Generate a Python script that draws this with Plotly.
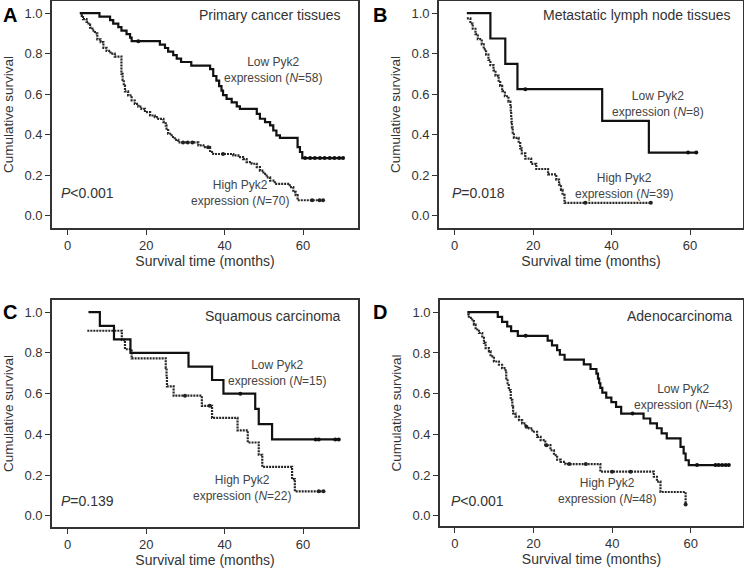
import numpy as np
import plotly.graph_objects as go

# ---------------- data ----------------
x_ticks = [0, 20, 40, 60]
y_ticks = [0.0, 0.2, 0.4, 0.6, 0.8, 1.0]
y_tick_labels = ["0.0", "0.2", "0.4", "0.6", "0.8", "1.0"]

panel_letters = ["A", "B", "C", "D"]
panel_titles = ["Primary cancer tissues", "Metastatic lymph node tissues",
                "Squamous carcinoma", "Adenocarcinoma"]
p_values = ["<i>P</i>&lt;0.001", "<i>P</i>=0.018", "<i>P</i>=0.139", "<i>P</i>&lt;0.001"]
low_n = [58, 8, 15, 43]
high_n = [70, 39, 22, 48]

# Panel A
A_low_t = [3.1, 8.1, 10.8, 11.6, 12.9, 13.7, 15.0, 15.9, 16.3, 23.5, 24.8, 25.6, 26.9, 27.8,
           28.9, 31.5, 36.3, 37.1, 37.9, 38.6, 39.2, 39.6, 40.5, 41.8, 43.1, 43.9, 48.2, 49.0,
           50.3, 51.6, 52.4, 53.2, 54.1, 58.6, 59.2, 59.8, 70.2]
A_low_s = [1.0, 0.983, 0.966, 0.948, 0.931, 0.914, 0.897, 0.879, 0.862, 0.845, 0.828, 0.810, 0.793, 0.776,
           0.759, 0.741, 0.724, 0.690, 0.667, 0.640, 0.618, 0.596, 0.577, 0.560, 0.540, 0.528, 0.503, 0.479,
           0.462, 0.446, 0.421, 0.397, 0.385, 0.339, 0.315, 0.285, 0.285]
A_low_cens = [18.0, 60.5, 61.8, 63.0, 64.3, 65.5, 66.8, 68.0, 69.2, 70.2]
A_high_t = [3.1, 3.6, 3.9, 4.8, 5.3, 5.7, 6.3, 6.95, 7.55, 8.4, 9.1, 9.9, 10.9, 12.0, 13.7, 14.0,
            14.3, 14.6, 15.4, 16.3, 17.1, 18.0, 18.8, 19.7, 21.0, 22.2, 23.1, 24.4, 25.0, 25.2, 25.6,
            26.5, 27.3, 28.2, 33.3, 34.6, 36.3, 37.1, 42.2, 43.5, 44.7, 45.6, 46.9, 48.2, 49.0, 49.9,
            50.7, 51.6, 52.8, 56.6, 57.5, 58.1, 58.6, 65.1]
A_high_s = [1.0, 0.986, 0.971, 0.957, 0.943, 0.929, 0.914, 0.900, 0.871, 0.857, 0.829, 0.814, 0.800, 0.786, 0.700, 0.671,
            0.643, 0.614, 0.594, 0.569, 0.552, 0.539, 0.528, 0.512, 0.495, 0.487, 0.478, 0.462, 0.445, 0.430, 0.405,
            0.389, 0.375, 0.362, 0.348, 0.339, 0.315, 0.305, 0.298, 0.290, 0.280, 0.265, 0.257, 0.240, 0.223, 0.207,
            0.190, 0.174, 0.158, 0.142, 0.118, 0.102, 0.077, 0.077]
A_high_cens = [29.4, 30.6, 31.8, 35.8, 39.6, 62.3, 64.2, 65.1]

# Panel B
B_low_t = [3.1, 9.1, 12.9, 16.0, 37.6, 49.5, 61.6]
B_low_s = [1.0, 0.875, 0.75, 0.625, 0.469, 0.312, 0.312]
B_low_cens = [18.0, 59.5, 61.6]
B_high_t = [3.1, 4.0, 4.6, 5.3, 5.9, 6.9, 7.4, 8.0, 8.6, 9.1, 9.9, 10.4, 11.2, 11.6, 12.1, 12.8, 13.7,
            14.2, 14.3, 14.4, 14.5, 14.6, 14.8, 15.1, 16.3, 16.7, 17.1, 18.0, 19.5, 20.8, 23.8, 25.9,
            26.6, 27.1, 27.5, 28.0, 50.0]
B_high_s = [0.974, 0.949, 0.923, 0.897, 0.872, 0.846, 0.821, 0.795, 0.769, 0.744, 0.718, 0.692, 0.667, 0.641, 0.615, 0.590, 0.564,
            0.538, 0.513, 0.487, 0.462, 0.436, 0.410, 0.385, 0.359, 0.333, 0.308, 0.282, 0.256, 0.231, 0.205, 0.179,
            0.154, 0.128, 0.103, 0.064, 0.064]
B_high_cens = [33.3, 50.0]

# Panel C
C_low_t = [5.3, 8.2, 11.8, 16.0, 30.8, 36.8, 39.7, 47.8, 48.7, 52.1, 69.1]
C_low_s = [1.0, 0.933, 0.867, 0.80, 0.733, 0.667, 0.60, 0.525, 0.45, 0.375, 0.375]
C_low_cens = [44.0, 63.2, 64.0, 68.2, 69.1]
C_high_t = [5.0, 13.8, 14.6, 16.3, 25.0, 25.2, 25.3, 27.0, 34.2, 36.8, 43.3, 45.9, 48.7, 49.6, 57.2, 57.9, 65.2]
C_high_s = [0.909, 0.864, 0.818, 0.773, 0.727, 0.682, 0.636, 0.590, 0.540, 0.481, 0.420, 0.360, 0.300, 0.240, 0.180, 0.120, 0.120]
C_high_cens = [29.9, 36.2, 64.0, 65.2]

# Panel D
D_low_t = [3.15, 10.9, 12.0, 13.3, 14.3, 16.0, 23.6, 24.7, 26.0, 26.7, 27.9, 32.8, 34.5, 36.0, 36.4, 36.7,
           37.0, 37.5, 38.5, 39.8, 41.0, 42.3, 48.0, 49.7, 51.4, 52.6, 53.9, 57.4, 58.2, 58.7, 59.5, 69.7]
D_low_s = [1.0, 0.977, 0.953, 0.930, 0.907, 0.884, 0.860, 0.837, 0.814, 0.791, 0.767, 0.744, 0.721, 0.698, 0.674, 0.651,
           0.628, 0.605, 0.581, 0.558, 0.535, 0.502, 0.478, 0.454, 0.430, 0.405, 0.380, 0.339, 0.306, 0.273, 0.249, 0.249]
D_low_cens = [18.0, 45.2, 61.6, 66.3, 67.1, 68.0, 68.9, 69.7]
D_high_t = [3.15, 3.56, 4.41, 4.83, 5.26, 6.11, 6.95, 7.38, 7.8, 8.65, 9.07, 9.92, 11.2, 12.0, 12.9, 13.05,
            13.4, 13.7, 14.2, 14.6, 14.8, 15.4, 16.3, 17.1, 17.96, 18.8, 19.7, 20.9, 21.8, 23.0, 24.3, 25.2,
            26.0, 26.9, 28.1, 37.0, 50.6, 51.4, 52.3, 58.7]
D_high_s = [0.989, 0.972, 0.956, 0.939, 0.915, 0.898, 0.874, 0.849, 0.824, 0.808, 0.783, 0.758, 0.742, 0.725, 0.709, 0.675,
            0.651, 0.618, 0.569, 0.536, 0.503, 0.487, 0.470, 0.454, 0.437, 0.429, 0.413, 0.388, 0.372, 0.347, 0.322, 0.298,
            0.276, 0.265, 0.254, 0.217, 0.192, 0.168, 0.117, 0.055]
D_high_cens = [18.2, 23.3, 29.1, 33.3, 40.0, 44.7, 58.7]

# ---------------- layout geometry (pixels) ----------------
W, H = 744, 573
FONT = "Liberation Sans, Arial, Helvetica, sans-serif"
TXT = "#333333"


def pxx(x):
    return x / W


def pxy(y):
    return 1 - y / H


panels = [
    dict(lt=A_low_t, ls=A_low_s, lc=A_low_cens, ht=A_high_t, hs=A_high_s, hc=A_high_cens,
         xd=(52, 358), yd=(1, 228), xr=(-4, 74), yr=(-0.06, 1.06),
         letter=(1, 2), title=(343, 15), low_lab=(273, 70), high_lab=(240, 193), p=(59, 193)),
    dict(lt=B_low_t, ls=B_low_s, lc=B_low_cens, ht=B_high_t, hs=B_high_s, hc=B_high_cens,
         xd=(439, 743), yd=(1, 228), xr=(-4, 73.5), yr=(-0.06, 1.06),
         letter=(371, 2), title=(733, 15), low_lab=(658, 104), high_lab=(624, 186), p=(450, 193)),
    dict(lt=C_low_t, ls=C_low_s, lc=C_low_cens, ht=C_high_t, hs=C_high_s, hc=C_high_cens,
         xd=(52, 358), yd=(300, 527), xr=(-4, 74), yr=(-0.055, 1.06),
         letter=(1, 299), title=(343, 316), low_lab=(277, 373), high_lab=(242, 488), p=(59, 501)),
    dict(lt=D_low_t, ls=D_low_s, lc=D_low_cens, ht=D_high_t, hs=D_high_s, hc=D_high_cens,
         xd=(440, 743), yd=(300, 526), xr=(-3.8, 73.3), yr=(-0.05, 1.06),
         letter=(371, 299), title=(734, 316), low_lab=(683, 397), high_lab=(607, 491), p=(449, 501)),
]


def step_value(t, s, c):
    i = np.searchsorted(np.asarray(t), c, side="right") - 1
    i = np.clip(i, 0, len(s) - 1)
    return list(np.asarray(s)[i])


fig = go.Figure()
annotations = []
layout_axes = {}

for k, p in enumerate(panels):
    n = "" if k == 0 else str(k + 1)
    xa, ya = "x" + n, "y" + n
    # high expression (dotted)
    fig.add_trace(go.Scatter(x=p["ht"], y=p["hs"], mode="lines", line_shape="hv",
                             line=dict(color="#262626", width=2.2, dash="2px,1px"),
                             xaxis=xa, yaxis=ya, showlegend=False, hoverinfo="skip"))
    fig.add_trace(go.Scatter(x=p["hc"], y=step_value(p["ht"], p["hs"], p["hc"]), mode="markers",
                             marker=dict(symbol="circle", size=4, color="#222"),
                             xaxis=xa, yaxis=ya, showlegend=False, hoverinfo="skip"))
    # low expression (solid)
    fig.add_trace(go.Scatter(x=p["lt"], y=p["ls"], mode="lines", line_shape="hv",
                             line=dict(color="#111111", width=2.2),
                             xaxis=xa, yaxis=ya, showlegend=False, hoverinfo="skip"))
    fig.add_trace(go.Scatter(x=p["lc"], y=step_value(p["lt"], p["ls"], p["lc"]), mode="markers",
                             marker=dict(symbol="circle", size=4, color="#111"),
                             xaxis=xa, yaxis=ya, showlegend=False, hoverinfo="skip"))

    common = dict(showline=True, linecolor="#333", linewidth=1.6, mirror=True,
                  ticks="outside", ticklen=5, tickwidth=1.3, tickcolor="#333",
                  showgrid=False, zeroline=False,
                  tickfont=dict(family=FONT, size=13, color=TXT))
    layout_axes["xaxis" + n] = dict(common, domain=[pxx(p["xd"][0]), pxx(p["xd"][1])],
                                    range=list(p["xr"]), tickvals=x_ticks, anchor=ya,
                                    title=dict(text="Survival time (months)", standoff=4,
                                               font=dict(family=FONT, size=14, color=TXT)))
    layout_axes["yaxis" + n] = dict(common, domain=[pxy(p["yd"][1]), pxy(p["yd"][0])],
                                    range=list(p["yr"]), tickvals=y_ticks, ticktext=y_tick_labels,
                                    anchor=xa,
                                    title=dict(text="Cumulative survival", standoff=8,
                                               font=dict(family=FONT, size=13.5, color=TXT)))

    annotations.append(dict(text="<b>" + panel_letters[k] + "</b>", xref="paper", yref="paper",
                            x=pxx(p["letter"][0]), y=pxy(p["letter"][1]), xanchor="left", yanchor="top",
                            showarrow=False, font=dict(family=FONT, size=20, color="#000")))
    annotations.append(dict(text=panel_titles[k], xref="paper", yref="paper",
                            x=pxx(p["title"][0]), y=pxy(p["title"][1]), xanchor="right", yanchor="middle",
                            showarrow=False, font=dict(family=FONT, size=14, color=TXT)))
    annotations.append(dict(text="Low Pyk2<br>expression (<i>N</i>=%d)" % low_n[k], xref="paper", yref="paper",
                            x=pxx(p["low_lab"][0]), y=pxy(p["low_lab"][1]), xanchor="center", yanchor="middle",
                            showarrow=False, align="center", font=dict(family=FONT, size=12, color="#444")))
    annotations.append(dict(text="High Pyk2<br>expression (<i>N</i>=%d)" % high_n[k], xref="paper", yref="paper",
                            x=pxx(p["high_lab"][0]), y=pxy(p["high_lab"][1]), xanchor="center", yanchor="middle",
                            showarrow=False, align="center", font=dict(family=FONT, size=12, color="#444")))
    annotations.append(dict(text=p_values[k], xref="paper", yref="paper",
                            x=pxx(p["p"][0]), y=pxy(p["p"][1]), xanchor="left", yanchor="middle",
                            showarrow=False, font=dict(family=FONT, size=14, color=TXT)))

fig.update_layout(width=W, height=H, margin=dict(l=0, r=0, t=0, b=0),
                  paper_bgcolor="white", plot_bgcolor="white", showlegend=False,
                  annotations=annotations, **layout_axes)

fig.write_html("out.html", config={"displayModeBar": False},
               post_script="document.body.style.margin='0';document.body.style.padding='0';"
                           "document.body.style.overflow='hidden';")
